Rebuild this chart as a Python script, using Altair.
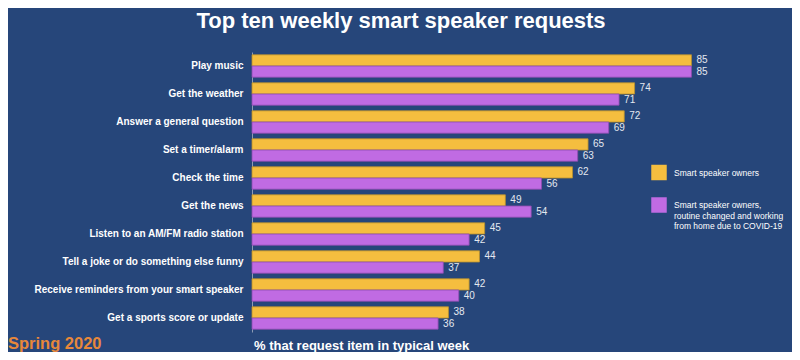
import altair as alt
import pandas as pd

requests = [
    "Play music",
    "Get the weather",
    "Answer a general question",
    "Set a timer/alarm",
    "Check the time",
    "Get the news",
    "Listen to an AM/FM radio station",
    "Tell a joke or do something else funny",
    "Receive reminders from your smart speaker",
    "Get a sports score or update",
]
owners = [85, 74, 72, 65, 62, 49, 45, 44, 42, 38]
covid = [85, 71, 69, 63, 56, 54, 42, 37, 40, 36]
series = [
    "Smart speaker owners",
    "Smart speaker owners, routine changed and working from home due to COVID-19",
]
colors = ["#F5BE3F", "#C06BE3"]
strokes = ["#B8902E", "#8E4DB0"]

title_text = "Top ten weekly smart speaker requests"
x_title = "% that request item in typical week"
season = "Spring 2020"

BG = "#26467A"
FONT = "Liberation Sans"

rows = []
for i, r in enumerate(requests):
    rows.append({"request": r, "series": series[0], "value": owners[i]})
    rows.append({"request": r, "series": series[1], "value": covid[i]})
df = pd.DataFrame(rows)

y_enc = alt.Y(
    "request:N",
    sort=requests,
    scale=alt.Scale(paddingInner=0.2, paddingOuter=0.1),
    axis=alt.Axis(
        title=None,
        labelFont=FONT,
        labelFontWeight="bold",
        labelColor="#FFFFFF",
        labelFontSize=10,
        labelPadding=9,
        labelLimit=300,
        ticks=False,
        domainColor="#8C9BB4",
        domainWidth=1,
    ),
)
yoff_enc = alt.YOffset("series:N", sort=series, scale=alt.Scale(paddingInner=0, paddingOuter=0))
x_enc = alt.X("value:Q", scale=alt.Scale(domain=[0, 100]), axis=None)

label_expr = (
    "datum.label == '" + series[1] + "' ? "
    "['Smart speaker owners,', 'routine changed and working', 'from home due to COVID-19'] : datum.label"
)

bars = alt.Chart(df).mark_bar(strokeWidth=0.8).encode(
    x=x_enc,
    y=y_enc,
    yOffset=yoff_enc,
    color=alt.Color(
        "series:N",
        sort=series,
        scale=alt.Scale(domain=series, range=colors),
        legend=alt.Legend(
            title=None,
            orient="none",
            legendX=399,
            legendY=112.5,
            padding=0,
            symbolType="square",
            symbolSize=240,
            symbolStrokeWidth=0,
            labelColor="#FFFFFF",
            labelFont=FONT,
            labelFontSize=8.5,
            labelLimit=300,
            labelOffset=7,
            labelExpr=label_expr,
            rowPadding=16.5,
        ),
    ),
    stroke=alt.Stroke("series:N", sort=series, scale=alt.Scale(domain=series, range=strokes), legend=None),
)

values = alt.Chart(df).mark_text(
    align="left", baseline="middle", dx=5, fontSize=10, font=FONT, color="#E4E8F0"
).encode(
    x=x_enc,
    y=alt.Y("request:N", sort=requests),
    yOffset=alt.YOffset("series:N", sort=series),
    text=alt.Text("value:Q"),
)

title = alt.Chart(pd.DataFrame({"t": [title_text]})).mark_text(
    align="center", baseline="alphabetic", fontSize=22, fontWeight="bold", font=FONT, color="#FFFFFF"
).encode(text="t:N", x=alt.value(149), y=alt.value(-24))

xtitle = alt.Chart(pd.DataFrame({"t": [x_title]})).mark_text(
    align="left", baseline="alphabetic", fontSize=13, fontWeight="bold", font=FONT, color="#FFFFFF"
).encode(text="t:N", x=alt.value(2), y=alt.value(298))

spring = alt.Chart(pd.DataFrame({"t": [season]})).mark_text(
    align="left", baseline="alphabetic", fontSize=16.5, fontWeight="bold", font=FONT, color="#E8883A"
).encode(text="t:N", x=alt.value(-244), y=alt.value(297))

chart = alt.layer(bars, values, title, xtitle, spring).properties(
    width=517,
    height=280,
    background=BG,
    padding={"left": 244, "top": 44, "right": 23, "bottom": 20},
    autosize=alt.AutoSizeParams(type="none"),
).configure(
    font=FONT,
    view=alt.ViewConfig(stroke="transparent", strokeWidth=0),
)

chart.save("out.html", embed_options={"renderer": "svg", "actions": False})
